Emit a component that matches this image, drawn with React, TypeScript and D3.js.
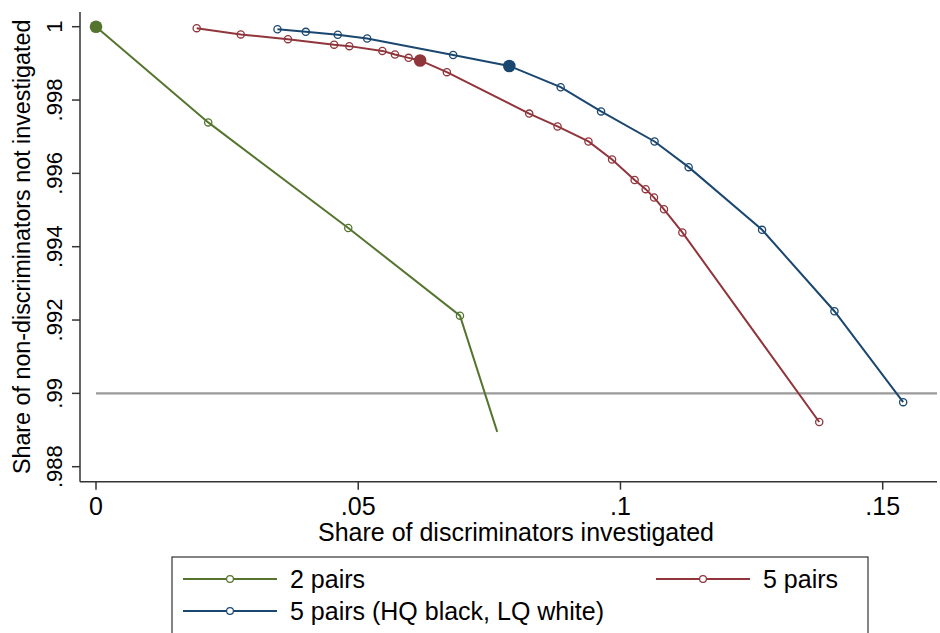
import React from 'react';
import * as d3 from 'd3';

// share of discriminators investigated (x) / share of non-discriminators not investigated (y)
const twoPairsX = [0, 0.0214, 0.0481, 0.0694, 0.0765];
const twoPairsY = [1, 0.99739, 0.99451, 0.99212, 0.98895];

const fivePairsX = [0.0192, 0.0276, 0.0366, 0.0454, 0.0483, 0.0546, 0.057, 0.0596, 0.0618, 0.0669, 0.0826, 0.088, 0.0939, 0.0984, 0.1027, 0.1048, 0.1064, 0.1083, 0.1118, 0.1379];
const fivePairsY = [0.99996, 0.99979, 0.99966, 0.99951, 0.99947, 0.99934, 0.99924, 0.99915, 0.99908, 0.99876, 0.99763, 0.99728, 0.99687, 0.99638, 0.99582, 0.99557, 0.99534, 0.99502, 0.99439, 0.98922];

const hqX = [0.0346, 0.04, 0.0461, 0.0517, 0.0681, 0.0788, 0.0886, 0.0963, 0.1065, 0.113, 0.127, 0.1408, 0.1539];
const hqY = [0.99993, 0.99986, 0.99978, 0.99968, 0.99923, 0.99893, 0.99835, 0.99769, 0.99687, 0.99617, 0.99446, 0.99224, 0.98976];

// index of the big filled marker in each series
const highlight = [0, 8, 5];
const refLine = 0.99;

const xTicks = [0, 0.05, 0.1, 0.15];
const yTicks = [0.988, 0.99, 0.992, 0.994, 0.996, 0.998, 1];

const series = [
  { name: '2 pairs', xs: twoPairsX, ys: twoPairsY, color: '#55752f', hl: highlight[0], endMarker: false },
  { name: '5 pairs', xs: fivePairsX, ys: fivePairsY, color: '#90353b', hl: highlight[1], endMarker: true },
  { name: '5 pairs (HQ black, LQ white)', xs: hqX, ys: hqY, color: '#1a476f', hl: highlight[2], endMarker: true },
];

const W = 940;
const H = 633;
const font = '"Liberation Sans", Arial, sans-serif';

const fmt = (v: number) => (v === 0 ? '0' : v === 1 ? '1' : String(v).replace(/^0/, ''));

export default function App() {
  const x = d3.scaleLinear().domain([0, 0.15]).range([96, 882.7]);
  const y = d3.scaleLinear().domain([0.988, 1]).range([466.7, 26.7]);
  const line = d3.line<[number, number]>().x(d => x(d[0])).y(d => y(d[1]));

  const left = 80;
  const right = 937;
  const bottom = 481.7;

  return (
    <div style={{ position: 'absolute', left: 0, top: 0 }}>
      <svg width={W} height={H} style={{ display: 'block', background: '#fff' }} fontFamily={font}>
        {/* reference line */}
        <line x1={x(0)} x2={right} y1={y(refLine)} y2={y(refLine)} stroke="#9a9a9a" strokeWidth={2.2} />

        {series.map(s => {
          const pts = s.xs.map((v, i) => [v, s.ys[i]] as [number, number]);
          return (
            <g key={s.name}>
              <path d={line(pts) || ''} fill="none" stroke={s.color} strokeWidth={2} />
              {pts.map((p, i) => {
                if (i === s.hl) return null;
                if (!s.endMarker && i === pts.length - 1) return null;
                return <circle key={i} cx={x(p[0])} cy={y(p[1])} r={3.6} fill="none" stroke={s.color} strokeWidth={1.3} />;
              })}
              <circle cx={x(pts[s.hl][0])} cy={y(pts[s.hl][1])} r={6.3} fill={s.color} />
            </g>
          );
        })}

        {/* y axis */}
        <line x1={left} x2={left} y1={12} y2={bottom} stroke="#333" strokeWidth={1.5} />
        {yTicks.map(t => (
          <g key={t}>
            <line x1={left - 8} x2={left} y1={y(t)} y2={y(t)} stroke="#333" strokeWidth={1.5} />
            <text transform={`translate(62,${y(t)}) rotate(-90)`} textAnchor="middle" fontSize={22} fill="#000">{fmt(t)}</text>
          </g>
        ))}
        <text transform={`translate(30,${(12 + bottom) / 2}) rotate(-90)`} textAnchor="middle" fontSize={23.3} fill="#000">
          Share of non-discriminators not investigated
        </text>

        {/* x axis */}
        <line x1={left} x2={right} y1={bottom} y2={bottom} stroke="#333" strokeWidth={1.5} />
        {xTicks.map(t => (
          <g key={t}>
            <line x1={x(t)} x2={x(t)} y1={bottom} y2={bottom + 8} stroke="#333" strokeWidth={1.5} />
            <text x={x(t)} y={515} textAnchor="middle" fontSize={25} fill="#000">{fmt(t)}</text>
          </g>
        ))}
        <text x={516} y={541} textAnchor="middle" fontSize={25} fill="#000">Share of discriminators investigated</text>

        {/* legend */}
        <rect x={172} y={557} width={696} height={90} fill="#fff" stroke="#333" strokeWidth={1.2} />
        {series.map((s, i) => {
          const lx = i === 1 ? 656 : 183;
          const ly = i === 2 ? 611 : 579;
          return (
            <g key={s.name}>
              <line x1={lx} x2={lx + 94} y1={ly} y2={ly} stroke={s.color} strokeWidth={2} />
              <circle cx={lx + 47} cy={ly} r={3.4} fill="#fff" stroke={s.color} strokeWidth={1.2} />
              <text x={lx + 107} y={ly + 9} fontSize={25} fill="#000">{s.name}</text>
            </g>
          );
        })}
      </svg>
    </div>
  );
}
